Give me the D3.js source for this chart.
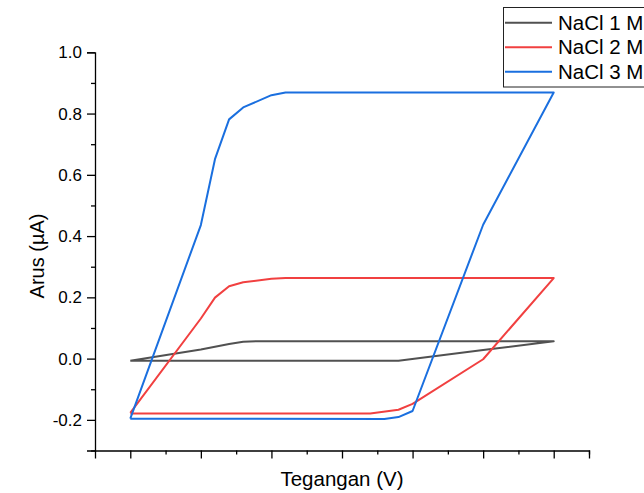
<!DOCTYPE html>
<html>
<head>
<meta charset="utf-8">
<script src="https://cdn.jsdelivr.net/npm/d3@7"></script>
<style>
  html, body { margin: 0; padding: 0; background: #fff; }
  svg { display: block; font-family: "Liberation Sans", Arial, sans-serif; }
</style>
</head>
<body>
<svg id="chart" width="644" height="493"></svg>
<script>
// ---- data ----
const seriesNames = ["NaCl 1 M", "NaCl 2 M", "NaCl 3 M"];
const seriesColors = ["#515151", "#F14040", "#1A6FDF"];

const v1 = [-0.6, -0.4, -0.32, -0.28, -0.24, 0.6, 0.4, 0.16, -0.6];
const i1 = [-0.007, 0.030, 0.048, 0.055, 0.057, 0.057, 0.028, -0.007, -0.007];

const v2 = [-0.6, -0.4, -0.36, -0.32, -0.28, -0.2, -0.16, 0.6, 0.4, 0.2, 0.16, 0.08, -0.6];
const i2 = [-0.177, 0.131, 0.199, 0.236, 0.249, 0.261, 0.263, 0.263, -0.002, -0.148, -0.167, -0.179, -0.179];

const v3 = [-0.6, -0.4, -0.36, -0.32, -0.28, -0.2, -0.16, 0.6, 0.4, 0.2, 0.16, 0.12, -0.6];
const i3 = [-0.196, 0.436, 0.651, 0.781, 0.820, 0.860, 0.869, 0.869, 0.437, -0.171, -0.191, -0.197, -0.196];

const xMajorTicks = [-0.6, -0.4, -0.2, 0.0, 0.2, 0.4, 0.6];
const xMinorTicks = [-0.5, -0.3, -0.1, 0.1, 0.3, 0.5, 0.7];
const yMajorTicks = [-0.2, 0.0, 0.2, 0.4, 0.6, 0.8, 1.0];
const yMinorTicks = [-0.3, -0.1, 0.1, 0.3, 0.5, 0.7, 0.9];
const yTickLabels = ["-0.2", "0.0", "0.2", "0.4", "0.6", "0.8", "1.0"];

const xTitle = "Tegangan (V)";
const yTitle = "Arus (\u00B5A)";

// ---- layout ----
const svg = d3.select("#chart");
const pLeft = 95, pRight = 589, pTop = 52.3, pBottom = 450.5;

const x = d3.scaleLinear().domain([-0.7, 0.7]).range([pLeft, pRight]);
const y = d3.scaleLinear().domain([-0.3, 1.0]).range([pBottom, pTop]);

const axisColor = "#000";

// X axis
const gx = svg.append("g").attr("transform", `translate(0,${pBottom})`);
gx.call(d3.axisBottom(x).tickValues(xMajorTicks).tickSize(8).tickFormat(""));
const gxm = gx.append("g").call(d3.axisBottom(x).tickValues(xMinorTicks).tickSize(4).tickFormat(""));
gxm.select(".domain").remove();
gx.selectAll(".domain").attr("stroke", axisColor).attr("stroke-width", 1.3);
gx.selectAll(".tick line").attr("stroke", axisColor).attr("stroke-width", 1.3);

// Y axis
const gy = svg.append("g").attr("transform", `translate(${pLeft},0)`);
gy.call(d3.axisLeft(y).tickValues(yMajorTicks).tickSize(8)
  .tickFormat((d, i) => yTickLabels[i]));
const gym = gy.append("g").call(d3.axisLeft(y).tickValues(yMinorTicks).tickSize(4).tickFormat(""));
gym.select(".domain").remove();
gy.selectAll(".domain").attr("stroke", axisColor).attr("stroke-width", 1.3);
gy.selectAll(".tick line").attr("stroke", axisColor).attr("stroke-width", 1.3);
gy.selectAll(".tick text")
  .attr("font-size", 17)
  .attr("font-family", "Liberation Sans, Arial, sans-serif")
  .attr("fill", "#000")
  .attr("x", -13);

// Titles
svg.append("text")
  .attr("x", (pLeft + pRight) / 2).attr("y", 486)
  .attr("text-anchor", "middle")
  .attr("font-size", 20.5)
  .attr("fill", "#000")
  .text(xTitle);

svg.append("text")
  .attr("transform", `translate(44,256) rotate(-90)`)
  .attr("text-anchor", "middle")
  .attr("font-size", 20)
  .attr("fill", "#000")
  .text(yTitle);

// Lines
const series = [
  { v: v1, i: i1 },
  { v: v2, i: i2 },
  { v: v3, i: i3 }
];
const line = d3.line().x(d => x(d[0])).y(d => y(d[1]));
series.forEach((s, k) => {
  const pts = s.v.map((vv, j) => [vv, s.i[j]]);
  svg.append("path")
    .datum(pts)
    .attr("d", line)
    .attr("fill", "none")
    .attr("stroke", seriesColors[k])
    .attr("stroke-width", 2)
    .attr("stroke-linejoin", "round");
});

// Legend
const lg = svg.append("g");
lg.append("rect")
  .attr("x", 503.5).attr("y", 7.5)
  .attr("width", 160).attr("height", 79.5)
  .attr("fill", "#fff")
  .attr("stroke", "#222").attr("stroke-width", 1);
const rowY = [22.7, 47.3, 71.7];
seriesNames.forEach((name, k) => {
  lg.append("line")
    .attr("x1", 505).attr("x2", 552)
    .attr("y1", rowY[k]).attr("y2", rowY[k])
    .attr("stroke", seriesColors[k]).attr("stroke-width", 2);
  lg.append("text")
    .attr("x", 558).attr("y", rowY[k] + 7)
    .attr("font-size", 20.5)
    .attr("fill", "#000")
    .text(name);
});
</script>
</body>
</html>
